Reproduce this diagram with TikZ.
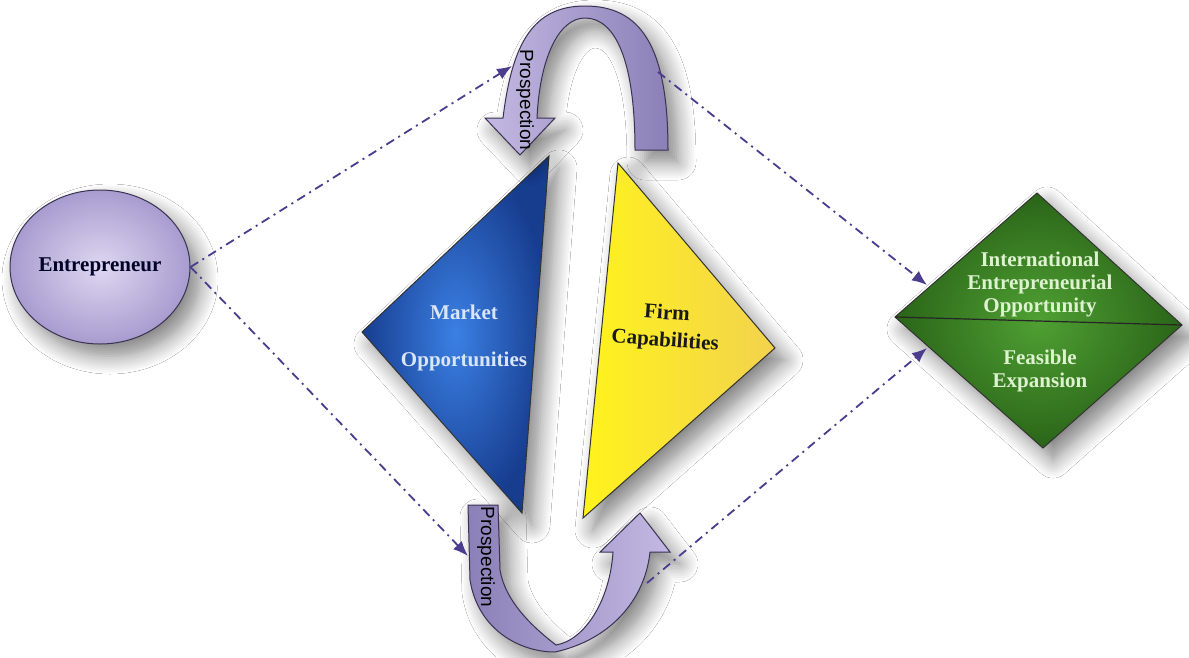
\documentclass[tikz,border=0pt]{standalone}
\usepackage{fontspec}
\setmainfont{Liberation Serif}
\newfontfamily\ribbonfont{Liberation Sans}
\usetikzlibrary{shapes.geometric,% ellipse node for the entrepreneur
arrows.meta,%                  filled arrow tips on the links
shadows.blur}%                 soft drop shadows
\tikzset{every node/.style={font=\bfseries\fontsize{21}{23}\selectfont, align=center}}

\definecolor{linkcol}{HTML}{4B3C8E}
\definecolor{ribbonlight}{HTML}{C3B9E3}
\definecolor{ribbondark}{HTML}{8B80B7}
\definecolor{ribbonline}{HTML}{3A3252}
\definecolor{entinner}{HTML}{DED7F1}
\definecolor{entouter}{HTML}{A89CCF}
\definecolor{marketin}{HTML}{3B80E4}
\definecolor{marketout}{HTML}{173D8F}
\definecolor{markettext}{HTML}{D9E5F8}
\definecolor{firmleft}{HTML}{FFF31C}
\definecolor{firmright}{HTML}{F3D24E}
\definecolor{ieoin}{HTML}{4FA033}
\definecolor{ieoout}{HTML}{2A6418}
\definecolor{ieotext}{HTML}{DDF2CF}

\tikzset{
  soft shadow/.style={blur shadow={shadow xshift=10pt, shadow yshift=-12pt,
      shadow blur radius=18pt, shadow blur steps=10, shadow opacity=50}},
  link/.style={draw=linkcol, line width=1.8pt,
      dash pattern=on 9pt off 5pt on 2pt off 5pt,
      -{Latex[length=15pt,width=12pt]}},
  ribbon/.style={draw=ribbonline, line width=1pt, soft shadow},
  outline/.style={draw=black!80, line width=1pt, soft shadow}
}

\begin{document}
\begin{tikzpicture}[x=1pt, y=-1pt]
      \useasboundingbox[fill=white] (0,0) rectangle (1189,657);

      % entrepreneur
      \node[ellipse, minimum width=180pt, minimum height=154pt, inner sep=0pt,
            draw=ribbonline, line width=1pt, inner color=entinner, outer color=entouter,
            soft shadow, text=black!85!blue] (ent) at (100,267) {Entrepreneur};

      % market opportunities / firm capabilities
      \coordinate (mkN) at (549,156);
      \coordinate (mkW) at (362,332);
      \coordinate (mkS) at (522,513);
      \shadedraw[outline, inner color=marketin, outer color=marketout]
        (mkN) -- (mkS) -- (mkW) -- cycle;
      \node[text=markettext] (market) at (464,338) {Market\\[24pt]Opportunities};

      \coordinate (fcN) at (618,163);
      \coordinate (fcE) at (775,348);
      \coordinate (fcS) at (583,518);
      \shadedraw[outline, left color=firmleft, right color=firmright]
        (fcN) -- (fcE) -- (fcS) -- cycle;
      \node[text=black!90, rotate=-4] (firm) at (666,328) {Firm\\[4pt]Capabilities};

      % prospection ribbons
      \shadedraw[ribbon, left color=ribbonlight, right color=ribbondark]
        (668,150) .. controls (668,45) and (640,6) .. (585,6)
        .. controls (532,6) and (512,45) .. (503,118)
        -- (485,118) -- (520,155) -- (555,118) -- (537,118)
        .. controls (540,55) and (560,18) .. (585,18)
        .. controls (615,18) and (635,60) .. (635,150) -- cycle;
      \node[font=\ribbonfont\fontsize{19}{20}\selectfont, rotate=-90] (prosTop) at (525,100) {Prospection};

      \shadedraw[ribbon, left color=ribbondark, right color=ribbonlight]
        (468,505) -- (470,580) .. controls (478,630) and (520,652) .. (555,652)
        .. controls (610,640) and (645,600) .. (650,552)
        -- (670,552) -- (640,513) -- (600,552) -- (613,552)
        .. controls (610,600) and (585,640) .. (556,645)
        .. controls (530,625) and (505,600) .. (500,570) -- (498,505) -- cycle;
      \node[font=\ribbonfont\fontsize{19}{20}\selectfont, rotate=-90] (prosBot) at (486,557) {Prospection};

      % international entrepreneurial opportunity
      \coordinate (ieoN) at (1037,193);
      \coordinate (ieoE) at (1182,325);
      \coordinate (ieoS) at (1043,448);
      \coordinate (ieoW) at (895,317);
      \shadedraw[outline, inner color=ieoin, outer color=ieoout]
        (ieoN) -- (ieoE) -- (ieoS) -- (ieoW) -- cycle;
      \draw[black!85, line width=1.2pt] (ieoW) -- (ieoE);
      \node[text=ieotext] (ieo) at (1040,284) {International\\Entrepreneurial\\Opportunity};
      \node[text=ieotext] (fe) at (1040,371) {Feasible\\Expansion};

      % links
      \coordinate (topIn) at (512,66);
      \coordinate (botIn) at (468,556);
      \coordinate (topOut) at (658,72);
      \coordinate (botOut) at (647,583);
      \coordinate (ieoUp) at (927,285);
      \coordinate (ieoDown) at (927,348);
      \draw[link] (ent.east) -- (topIn);
      \draw[link] (ent.east) -- (botIn);
      \draw[link] (topOut) -- (ieoUp);
      \draw[link] (botOut) -- (ieoDown);
    \end{tikzpicture}
\end{document}
